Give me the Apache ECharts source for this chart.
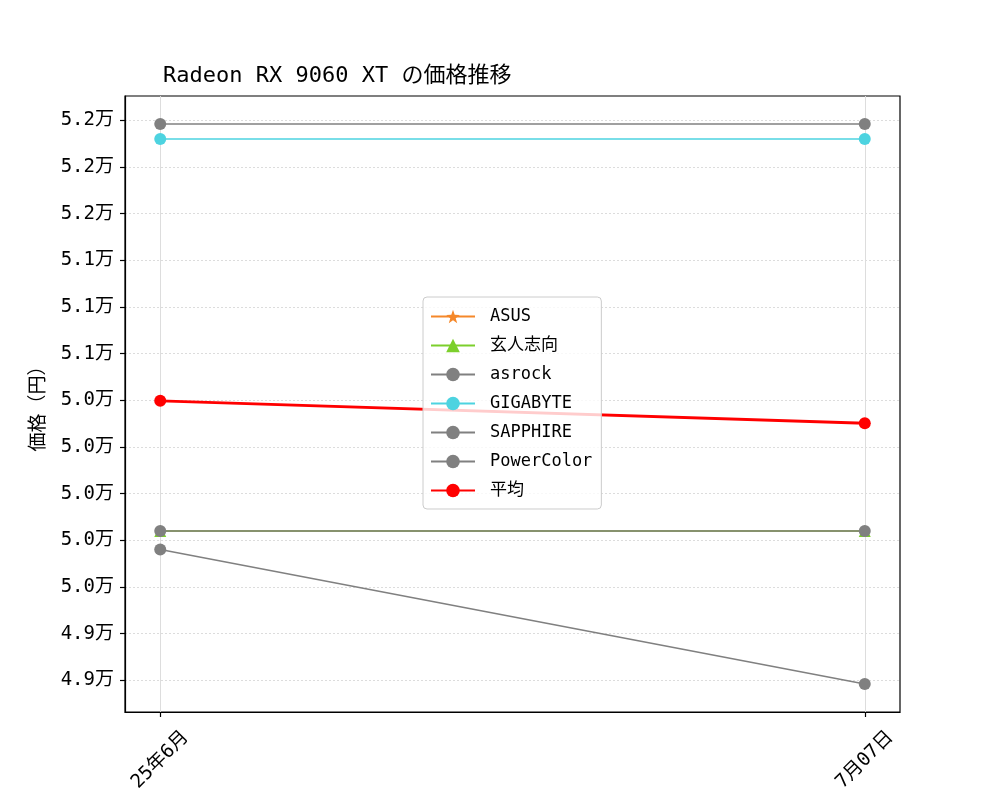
<!DOCTYPE html>
<html>
<head>
<meta charset="utf-8">
<script src="https://cdn.jsdelivr.net/npm/echarts@6/dist/echarts.min.js"></script>
<style>html,body{margin:0;padding:0;background:#fff}#c{width:1000px;height:800px}</style>
</head>
<body>
<div id="c"></div>
<script>
const FONT = "'DejaVu Sans Mono', 'Noto Sans CJK JP', monospace";
const titleText = 'Radeon RX 9060 XT の価格推移';
const yAxisName = '価格（円）';
const xPositions = [0, 1];
const xLabels = ['25年6月', '7月07日'];
const yTickValues = [49000, 49250, 49500, 49750, 50000, 50250, 50500, 50750, 51000, 51250, 51500, 51750, 52000];
const yTickLabels = ['4.9万', '4.9万', '5.0万', '5.0万', '5.0万', '5.0万', '5.0万', '5.1万', '5.1万', '5.1万', '5.2万', '5.2万', '5.2万'];

const seriesNames = ['ASUS', '玄人志向', 'asrock', 'GIGABYTE', 'SAPPHIRE', 'PowerColor', '平均'];
const asus = [49800, 49800];
const kuroutoshikou = [49800, 49800];
const asrock = [51980, 51980];
const gigabyte = [51900, 51900];
const sapphire = [49800, 49800];
const powercolor = [49700, 48980];
const average = [50497, 50377];

const seriesColors = ['#f5882a', '#7ccf2c', '#808080', '#4dd3e0', '#808080', '#808080', '#ff0000'];
const seriesSymbols = ['path://M0,-10 L2.35,-3.24 L9.51,-3.09 L3.8,1.24 L5.88,8.09 L0,4 L-5.88,8.09 L-3.8,1.24 L-9.51,-3.09 L-2.35,-3.24 Z', 'triangle', 'circle', 'circle', 'circle', 'circle', 'circle'];
const seriesSymbolSizes = [11, 12, 12, 12, 12, 12, 12];
const seriesWidths = [1.5, 1.5, 1.5, 1.5, 1.5, 1.5, 2.8];
const seriesValues = [asus, kuroutoshikou, asrock, gigabyte, sapphire, powercolor, average];

const chart = echarts.init(document.getElementById('c'));
chart.setOption({
  animation: false,
  backgroundColor: '#fff',
  textStyle: { fontFamily: FONT },
  title: {
    text: titleText,
    left: 158,
    top: 60,
    textStyle: { fontFamily: FONT, fontSize: 22, fontWeight: 'normal', color: '#000' }
  },
  grid: {
    left: 125, right: 100, top: 96, bottom: 88,
    show: true, borderColor: '#000', borderWidth: 1.2, backgroundColor: 'transparent'
  },
  legend: {
    orient: 'vertical',
    left: 423,
    top: 297,
    padding: [11, 9, 10, 7],
    itemGap: 12,
    itemWidth: 44,
    itemHeight: 17,
    borderColor: '#cccccc',
    borderWidth: 1,
    borderRadius: 4,
    backgroundColor: 'rgba(255,255,255,0.8)',
    textStyle: { fontFamily: FONT, fontSize: 17, color: '#000', padding: [0, 0, 0, 10] },
    data: seriesNames
  },
  xAxis: {
    type: 'value',
    min: -0.05,
    max: 1.05,
    axisLine: { show: true, onZero: false, lineStyle: { color: '#000', width: 1.2 } },
    axisTick: { show: true, customValues: xPositions, length: 5, lineStyle: { color: '#000', width: 1.2 } },
    axisLabel: {
      customValues: xPositions,
      formatter: v => xLabels[xPositions.indexOf(v)] || '',
      rotate: 45,
      fontSize: 19,
      color: '#000',
      fontFamily: FONT,
      align: 'center',
      verticalAlign: 'middle',
      margin: 48
    },
    splitLine: { show: true, lineStyle: { color: '#dddddd', width: 1 } }
  },
  yAxis: {
    type: 'value',
    min: 48830,
    max: 52130,
    name: yAxisName,
    nameLocation: 'middle',
    nameGap: 76,
    nameTextStyle: { fontFamily: FONT, fontSize: 19, color: '#000' },
    axisLine: { show: true, onZero: false, lineStyle: { color: '#000', width: 1.2 } },
    axisTick: { show: true, customValues: yTickValues, length: 5, lineStyle: { color: '#000', width: 1.2 } },
    axisLabel: {
      customValues: yTickValues,
      formatter: v => yTickLabels[yTickValues.indexOf(v)] || '',
      fontSize: 19,
      color: '#000',
      fontFamily: FONT,
      margin: 11
    },
    splitLine: { show: true, lineStyle: { color: '#d4d4d4', width: 0.8, type: [2, 2] } }
  },
  series: seriesNames.map((name, i) => ({
    name: name,
    type: 'line',
    data: xPositions.map((x, j) => [x, seriesValues[i][j]]),
    symbol: seriesSymbols[i],
    symbolSize: seriesSymbolSizes[i],
    showAllSymbol: true,
    color: seriesColors[i],
    itemStyle: { color: seriesColors[i] },
    lineStyle: { color: seriesColors[i], width: seriesWidths[i] },
    z: 2 + i * 0.01,
    zlevel: 0
  }))
});
</script>
</body>
</html>
